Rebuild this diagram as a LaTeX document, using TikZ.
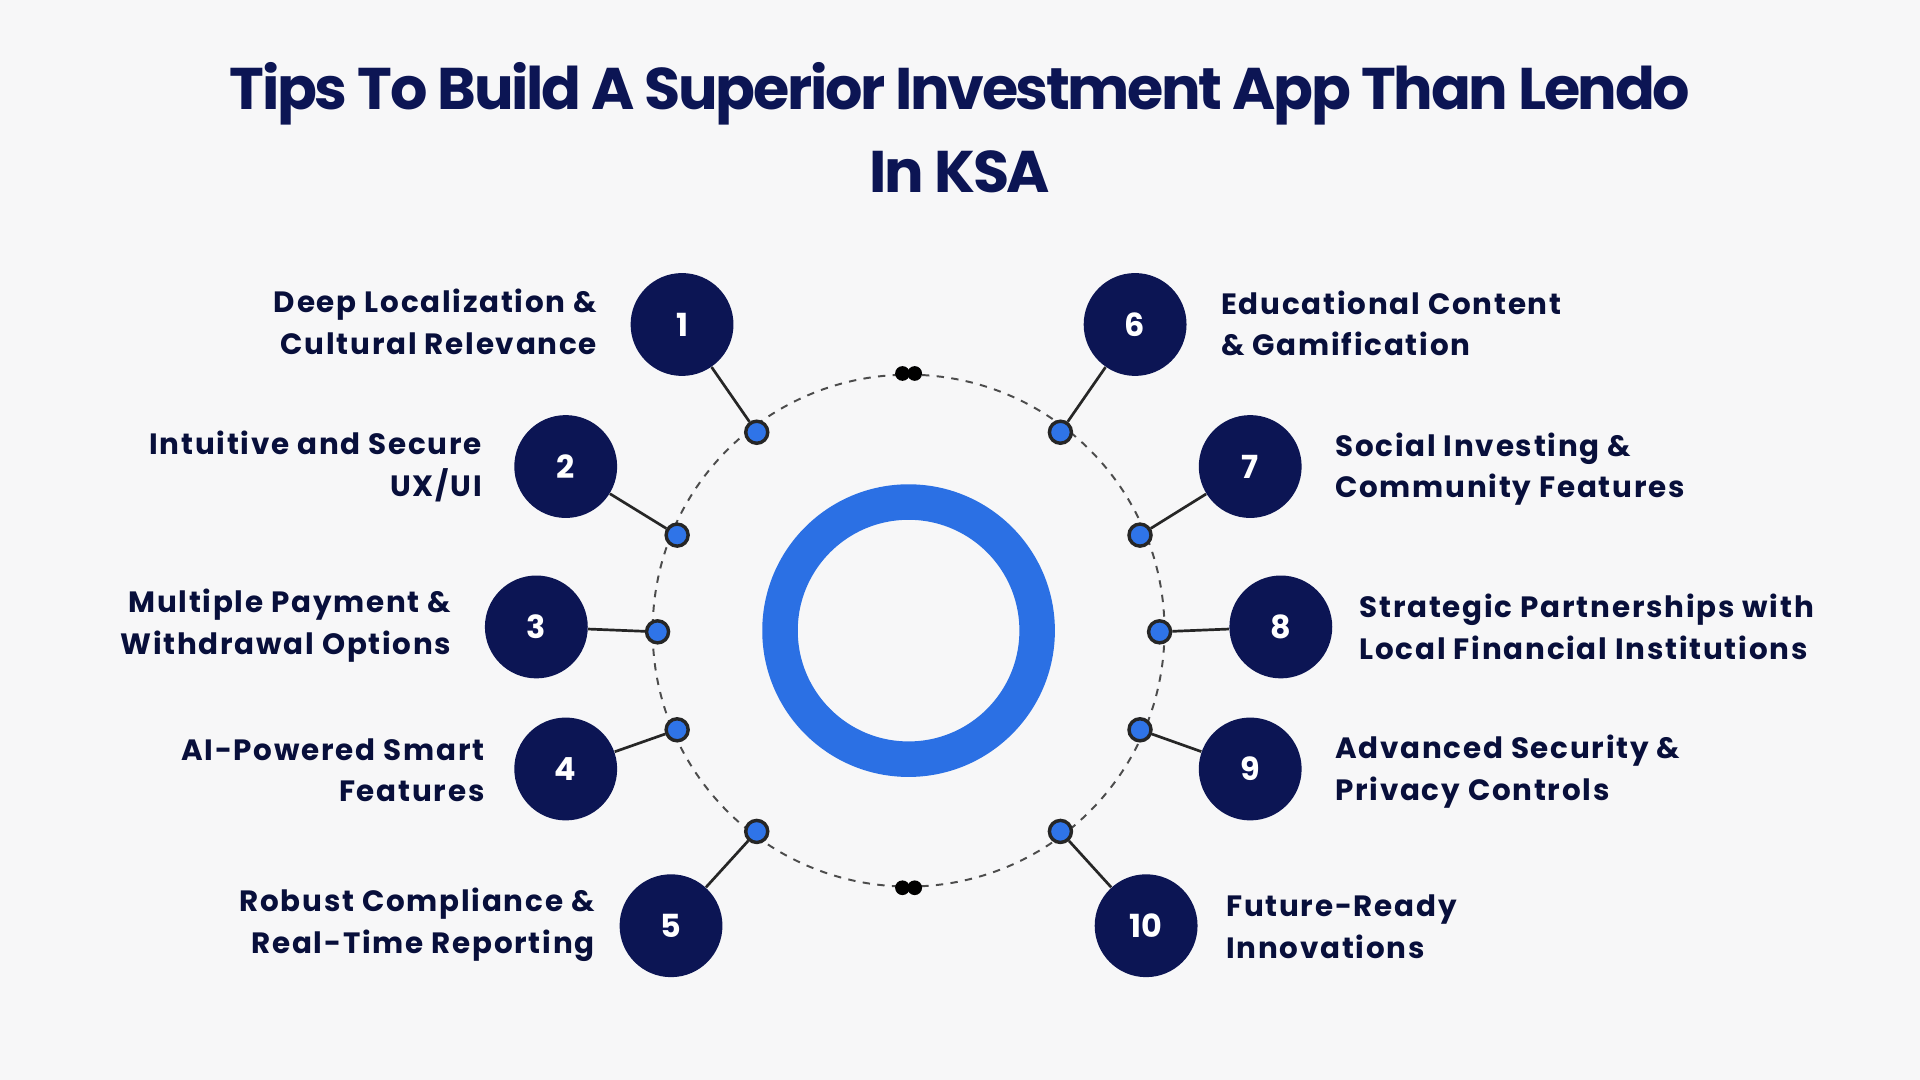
\documentclass[tikz,border=0pt]{standalone}
\usepackage{fontspec}
\setmainfont{Poppins}
\definecolor{bg}{HTML}{F7F7F8}
\definecolor{navy}{HTML}{0C1554}
\definecolor{ringblue}{HTML}{2B70E4}
\definecolor{dotblue}{HTML}{2F74E8}
\tikzset{
  num/.style={circle,fill=navy,minimum size=42pt,inner sep=0pt,text=white,font=\fontsize{13}{13}\selectfont\bfseries},
  pin/.style={circle,fill=dotblue,draw=black!85,line width=1.4pt,minimum size=9pt,inner sep=0pt},
  lab/.style={font=\fontsize{12}{17}\selectfont\bfseries\addfontfeatures{LetterSpace=6},text=navy!70!black,inner sep=0pt},
  conn/.style={line width=1.1pt,black!85}
}
\begin{document}
\begin{tikzpicture}[x=0.5pt,y=-0.5pt]
\fill[bg] (0,0) rectangle (1568,882);
\node[font=\fontsize{24}{34}\selectfont\bfseries\addfontfeatures{LetterSpace=-4},text=navy,align=center] (title) at (784,104) {Tips To Build A Superior Investment App Than Lendo\\In KSA};
\coordinate (c) at (742,515);
\draw[dashed,line width=0.8pt,black!70] (c) circle (209);
\draw[ringblue,line width=14.5pt] (c) circle (105);
\node[circle,fill=black,minimum size=6pt,inner sep=0pt] (t1) at (737,305) {};
\node[circle,fill=black,minimum size=6pt,inner sep=0pt] (t2) at (747,305) {};
\node[circle,fill=black,minimum size=6pt,inner sep=0pt] (b1) at (737,725) {};
\node[circle,fill=black,minimum size=6pt,inner sep=0pt] (b2) at (747,725) {};
\foreach \i/\nx/\ny/\px/\py in {1/557/265/618/353,2/462/381/553/437,3/438/512/537/516,4/462/628/553/596,5/548/756/618/679,
  6/927/265/866/353,7/1021/381/931/437,8/1046/512/947/516,9/1021/628/931/596,10/936/756/866/679}{
  \node[pin] (p\i) at (\px,\py) {};
  \node[num] (n\i) at (\nx,\ny) {\i};
  \draw[conn] (n\i) -- (p\i);
}
\node[lab,anchor=east,align=right] (l1) at (488,263) {Deep Localization \&\\Cultural Relevance};
\node[lab,anchor=east,align=right] (l2) at (394,381) {Intuitive and Secure\\UX/UI};
\node[lab,anchor=east,align=right] (l3) at (369,511) {Multiple Payment \&\\Withdrawal Options};
\node[lab,anchor=east,align=right] (l4) at (396,629) {AI-Powered Smart\\Features};
\node[lab,anchor=east,align=right] (l5) at (486,755) {Robust Compliance \&\\Real-Time Reporting};
\node[lab,anchor=west,align=left] (l6) at (997,264) {Educational Content\\\& Gamification};
\node[lab,anchor=west,align=left] (l7) at (1090,383) {Social Investing \&\\Community Features};
\node[lab,anchor=west,align=left] (l8) at (1110,512) {Strategic Partnerships with\\Local Financial Institutions};
\node[lab,anchor=west,align=left] (l9) at (1090,630) {Advanced Security \&\\Privacy Controls};
\node[lab,anchor=west,align=left] (l10) at (1001,757) {Future-Ready\\Innovations};
\end{tikzpicture}
\end{document}
